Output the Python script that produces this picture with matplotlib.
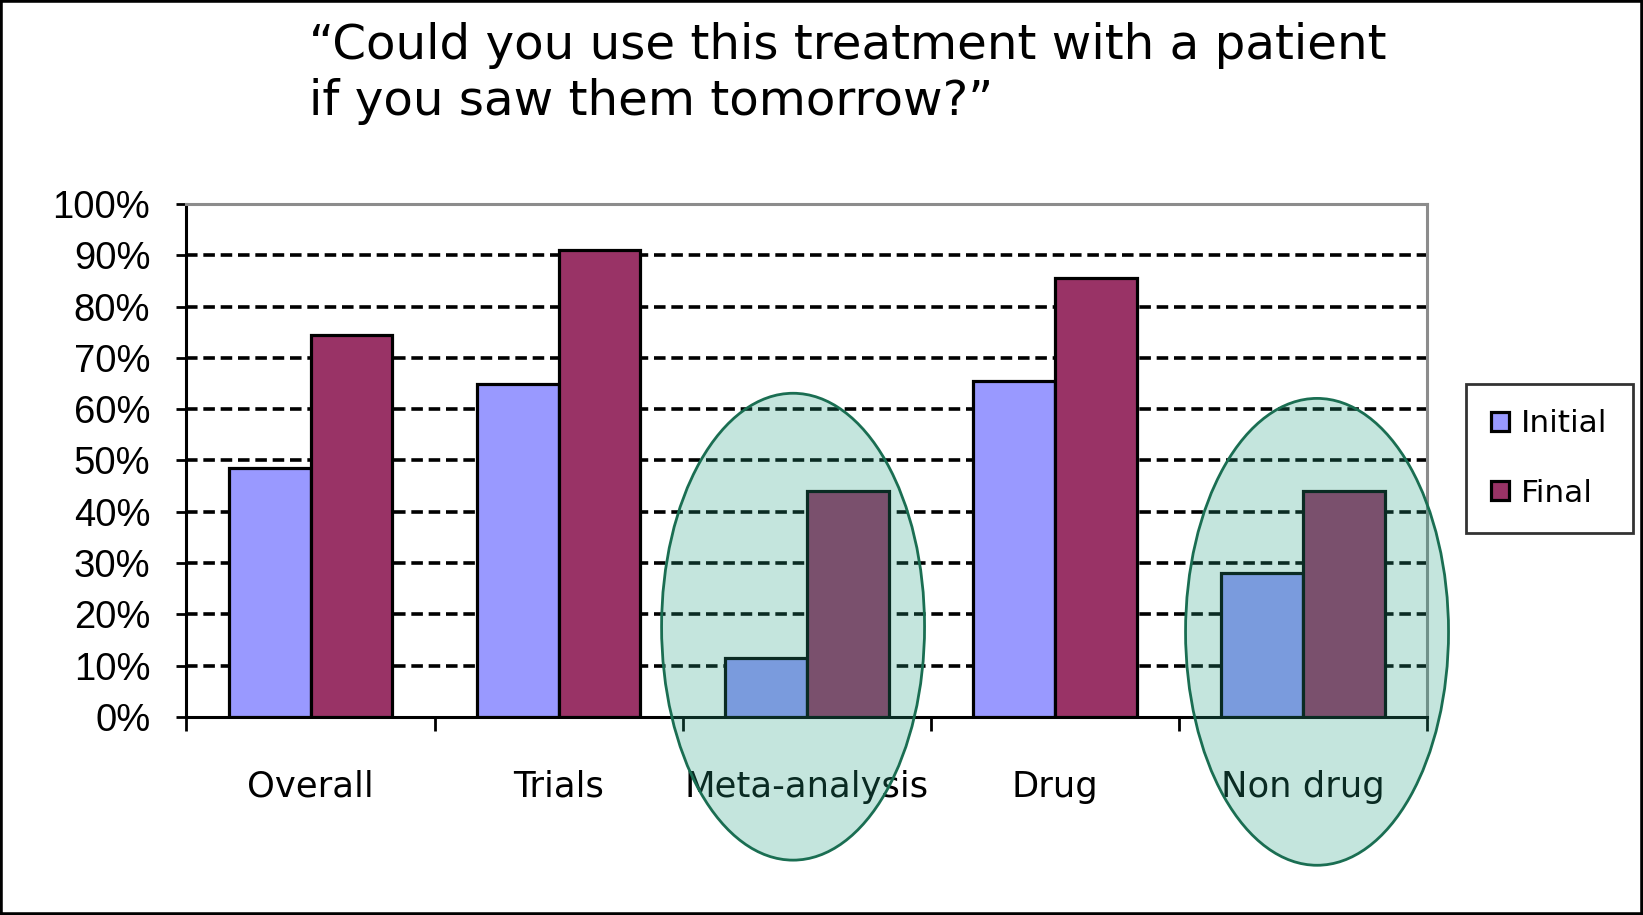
import matplotlib
matplotlib.use("Agg")
import matplotlib.pyplot as plt
from matplotlib.patches import Ellipse, Rectangle
from matplotlib.ticker import FixedLocator, PercentFormatter

# data
categories = ["Overall", "Trials", "Meta-analysis", "Drug", "Non drug"]
initial = [48.5, 65, 11.5, 65.5, 28]
final = [74.5, 91, 44, 85.5, 44]
series_names = ["Initial", "Final"]
highlighted = ["Meta-analysis", "Non drug"]
yticks = list(range(0, 101, 10))

title = "\u201cCould you use this treatment with a patient\nif you saw them tomorrow?\u201d"

fig = plt.figure(figsize=(16.43, 9.15), dpi=100)
ax = fig.add_axes([0.1135, 0.2164, 0.755, 0.5607])

x = list(range(len(categories)))
w = 0.33
b1 = ax.bar([i - w / 2 for i in x], initial, width=w, color="#9999FF",
            edgecolor="black", linewidth=2.3, label=series_names[0], zorder=3)
b2 = ax.bar([i + w / 2 for i in x], final, width=w, color="#993366",
            edgecolor="black", linewidth=2.3, label=series_names[1], zorder=3)

ax.set_xlim(-0.5, len(categories) - 0.5)
ax.set_ylim(0, 100)

# dashed grid, grey top line
for v in yticks[1:-1]:
    ax.axhline(v, color="black", linestyle=(0, (3.2, 1.6)), linewidth=2.6, zorder=1)
ax.spines["top"].set_color("#8c8c8c")
ax.spines["right"].set_color("#8c8c8c")
for s in ax.spines.values():
    s.set_linewidth(2.2)
ax.spines["left"].set_color("black")
ax.spines["bottom"].set_color("black")

ax.yaxis.set_major_locator(FixedLocator(yticks))
ax.yaxis.set_major_formatter(PercentFormatter(decimals=0))
ax.tick_params(axis="y", length=7, width=2, pad=19, labelsize=27.5)
for lab in ax.get_yticklabels():
    lab.set_family("Liberation Sans")

ax.set_xticks([i - 0.5 for i in range(len(categories) + 1)])
ax.set_xticklabels([])
ax.set_xticks(x, minor=True)
ax.set_xticklabels(categories, minor=True, fontsize=25.5)
ax.tick_params(axis="x", which="major", length=10, width=2)
ax.tick_params(axis="x", which="minor", length=0, pad=38)

# green ovals around the two categories
for cat, dx, yc in zip(highlighted, [-0.055, 0.057], [17.6, 16.6]):
    i = categories.index(cat)
    e = Ellipse((i + dx, yc), 1.06, 91, facecolor=(40/255, 161/255, 130/255, 0.27),
                edgecolor="#1a6e52", linewidth=2, zorder=6, clip_on=False)
    ax.add_patch(e)

leg = fig.legend(handles=[b1, b2], labels=series_names, loc="center",
                 bbox_to_anchor=(0.9431, 0.4989), fontsize=22.5, frameon=True,
                 fancybox=False, edgecolor="black", handlelength=0.55,
                 handleheight=0.55, handletextpad=0.4, labelspacing=1.3,
                 borderpad=0.8, borderaxespad=0)
leg.get_frame().set_linewidth(2)

fig.text(309 / 1643, 1 - 22 / 915, title, ha="left", va="top", fontsize=34.8,
         linespacing=1.25)

fig.add_artist(Rectangle((0, 0), 1, 1, transform=fig.transFigure, fill=False,
                         edgecolor="black", linewidth=4))

fig.savefig("out.png", dpi=100)
